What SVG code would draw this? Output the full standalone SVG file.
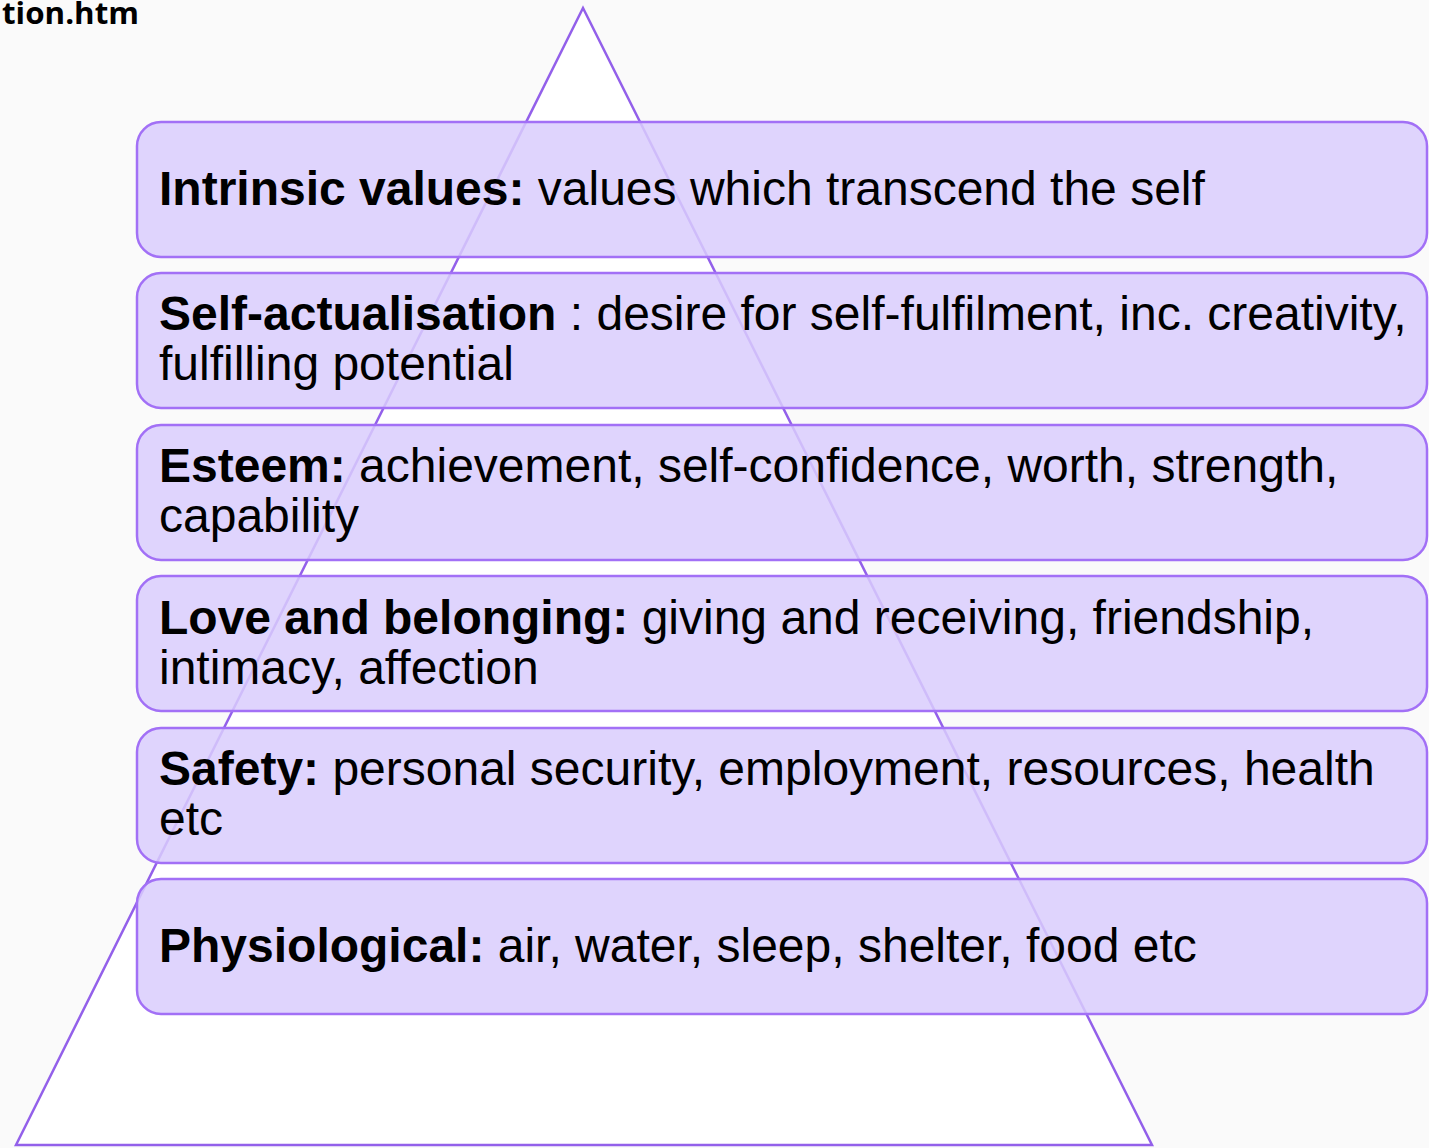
<svg xmlns="http://www.w3.org/2000/svg" width="1429" height="1148" viewBox="0 0 1429 1148">
  <style>
    .tier { fill: #d9ccfd; fill-opacity: 0.85; stroke: #a270f6; stroke-width: 2.5; }
    .label { font-family: "Liberation Sans", Arial, sans-serif; font-size: 48px; fill: #000; }
    .label tspan.b { font-weight: bold; }
    .src { font-family: "Open Sans", "DejaVu Sans", sans-serif; font-size: 30px; font-weight: bold; fill: #000; }
  </style>
  <rect width="1429" height="1148" fill="#fafafa"/>
  <text class="src" x="139" y="24" text-anchor="end" textLength="137" lengthAdjust="spacingAndGlyphs">tion.htm</text>

  <!-- pyramid outline behind the tiers -->
  <g id="pyramid">
    <polygon points="583,8 16,1145 1152,1145" fill="#ffffff" stroke="#9360ea" stroke-width="2.5" stroke-linejoin="miter"/>
  </g>

  <g id="connectors"></g>

  <g id="tier-intrinsic">
    <rect class="tier" x="137" y="122" width="1290" height="135" rx="24"/>
    <text class="label" x="159" y="205"><tspan class="b">Intrinsic values:</tspan> values which transcend the self</text>
  </g>
  <g id="tier-self-actualisation">
    <rect class="tier" x="137" y="273" width="1290" height="135" rx="24"/>
    <text class="label" x="159" y="330"><tspan class="b">Self-actualisation</tspan> : desire for self-fulfilment, inc. creativity,</text>
    <text class="label" x="159" y="380">fulfilling potential</text>
  </g>
  <g id="tier-esteem">
    <rect class="tier" x="137" y="425" width="1290" height="135" rx="24"/>
    <text class="label" x="159" y="482"><tspan class="b">Esteem:</tspan> achievement, self-confidence, worth, strength,</text>
    <text class="label" x="159" y="532">capability</text>
  </g>
  <g id="tier-love">
    <rect class="tier" x="137" y="576" width="1290" height="135" rx="24"/>
    <text class="label" x="159" y="634"><tspan class="b">Love and belonging:</tspan> giving and receiving, friendship,</text>
    <text class="label" x="159" y="684">intimacy, affection</text>
  </g>
  <g id="tier-safety">
    <rect class="tier" x="137" y="728" width="1290" height="135" rx="24"/>
    <text class="label" x="159" y="785"><tspan class="b">Safety:</tspan> personal security, employment, resources, health</text>
    <text class="label" x="159" y="835">etc</text>
  </g>
  <g id="tier-physiological">
    <rect class="tier" x="137" y="879" width="1290" height="135" rx="24"/>
    <text class="label" x="159" y="962"><tspan class="b">Physiological:</tspan> air, water, sleep, shelter, food etc</text>
  </g>
</svg>
